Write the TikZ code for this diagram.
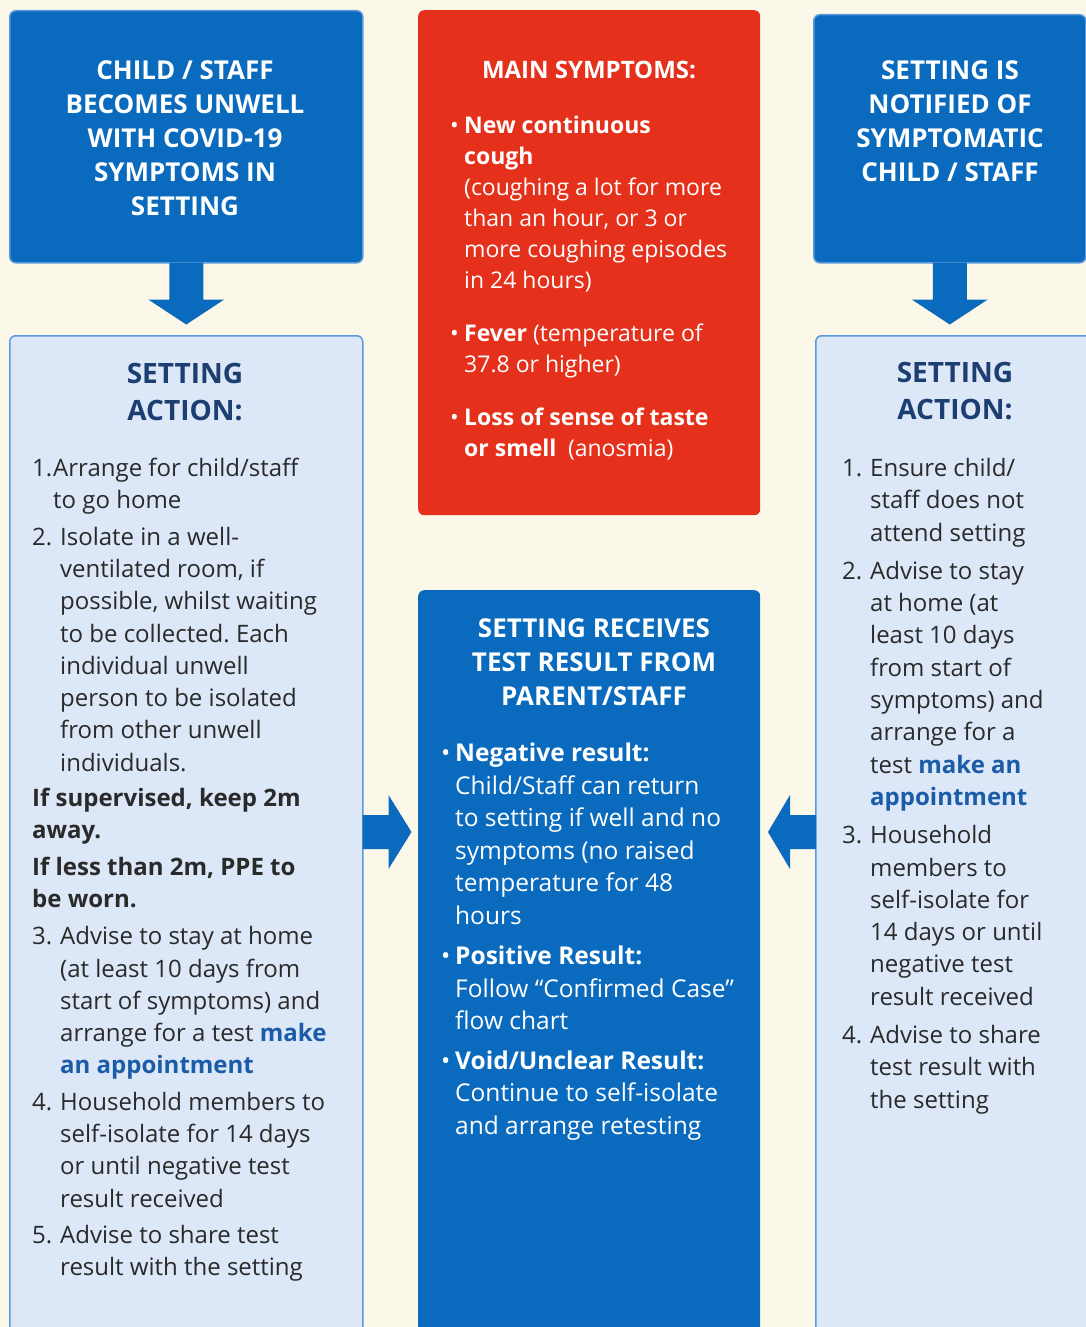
\documentclass[tikz,border=0pt]{standalone}
\usepackage{fontspec}
\setmainfont{Open Sans}
\usetikzlibrary{calc}
\frenchspacing

\definecolor{cream}{HTML}{FCF8E9}
\definecolor{nhsblue}{HTML}{0A6BBE}
\definecolor{edgeblue}{HTML}{5A9ADA}
\definecolor{symred}{HTML}{E5311B}
\definecolor{paleblue}{HTML}{DCE7F7}
\definecolor{navy}{HTML}{1C3E70}
\definecolor{ink}{HTML}{2A2A2A}
\definecolor{linkblue}{HTML}{1B5CA8}

\newcommand{\numl}[1]{\makebox[28pt][l]{#1}}
\newcommand{\indl}{\hspace*{28pt}}
\newcommand{\bul}{\makebox[14pt][l]{\textbullet}}
\newcommand{\bind}{\hspace*{14pt}}
\newcommand{\appt}[1]{\textbf{\color{linkblue}#1}}

\begin{document}
\begin{tikzpicture}[x=1pt,y=-1pt]
\tikzstyle{box}=[rectangle, anchor=north west, inner sep=0pt, rounded corners=6pt]
\tikzstyle{bluebox}=[box, fill=nhsblue, draw=edgeblue, line width=1.5pt]
\tikzstyle{palebox}=[box, fill=paleblue, draw=edgeblue, line width=1.5pt]
\tikzstyle{redbox}=[box, fill=symred]
\tikzstyle{arrowfill}=[fill=nhsblue]
\tikzstyle{ttl}=[anchor=north, align=center, text=white, inner sep=0pt, font=\fontsize{26}{34}\selectfont\bfseries]
\tikzstyle{hd}=[anchor=north, align=center, text=navy, inner sep=0pt, font=\fontsize{28}{37}\selectfont\bfseries]
\tikzstyle{body}=[anchor=north west, align=left, text=ink, inner sep=0pt, font=\fontsize{24}{32.3}\selectfont]
\tikzstyle{wbody}=[body, text=white]
\fill[cream] (0,0) rectangle (1086,1327);
\useasboundingbox (0,0) rectangle (1086,1327);

% boxes
\node (topL) [bluebox, minimum width=353pt, minimum height=252pt] at (9,10) {};
\node (symp) [redbox, minimum width=342pt, minimum height=505pt] at (418,10) {};
\node (topR) [bluebox, minimum width=272pt, minimum height=248pt] at (813,14) {};
\node (actL) [palebox, minimum width=353pt, minimum height=1100pt] at (9,335) {};
\node (test) [box, fill=nhsblue, minimum width=342pt, minimum height=800pt] at (418,590) {};
\node (actR) [palebox, minimum width=320pt, minimum height=1100pt] at (815,335) {};

% block arrows
\foreach \n in {topL,topR}
  \fill[arrowfill, shift={(\n.south)}] (-17,-1) -- (-17,36) -- (-38,36) -- (0,61) -- (38,36) -- (17,36) -- (17,-1) -- cycle;
\coordinate (midrow) at (0,832);
\fill[arrowfill, shift={(actL.east |- midrow)}] (-1,-17) -- (25,-17) -- (25,-37) -- (48,0) -- (25,37) -- (25,17) -- (-1,17) -- cycle;
\fill[arrowfill, shift={(actR.west |- midrow)}] (1,-17) -- (-25,-17) -- (-25,-37) -- (-47,0) -- (-25,37) -- (-25,17) -- (1,17) -- cycle;

% titles
\node (tL) [ttl] at (185,60) {CHILD / STAFF\\BECOMES UNWELL\\WITH COVID-19\\SYMPTOMS IN\\SETTING};
\node (tR) [ttl] at (950,60) {SETTING IS\\NOTIFIED OF\\SYMPTOMATIC\\CHILD / STAFF};
\node (tS) [ttl, font=\fontsize{24}{34}\selectfont\bfseries] at (589,61) {MAIN SYMPTOMS:};
\node (tT) [ttl] at (594,618) {SETTING RECEIVES\\TEST RESULT FROM\\PARENT/STAFF};
\node (hL) [hd] at (185,363) {SETTING\\ACTION:};
\node (hR) [hd] at (955,362) {SETTING\\ACTION:};

% symptoms
\node (bS) [wbody, font=\fontsize{23}{31}\selectfont] at (450,116) {%
\bul\textbf{New continuous}\\
\bind\textbf{cough}\\
\bind(coughing a lot for more\\
\bind than an hour, or 3 or\\
\bind more coughing episodes\\
\bind in 24 hours)\\[22pt]
\bul\textbf{Fever} (temperature of\\
\bind 37.8 or higher)\\[22pt]
\bul\textbf{Loss of sense of taste}\\
\bind\textbf{or smell}\enspace(anosmia)};

% left action
\node (bL) [body] at (32,458) {%
\makebox[21pt][l]{1.}Arrange for child/staff\\
\hspace*{21pt}to go home\\[4pt]
\numl{2.}Isolate in a well-\\
\indl ventilated room, if\\
\indl possible, whilst waiting\\
\indl to be collected. Each\\
\indl individual unwell\\
\indl person to be isolated\\
\indl from other unwell\\
\indl individuals.\\[3pt]
\textbf{If supervised, keep 2m}\\
\textbf{away.}\\[4pt]
\textbf{If less than 2m, PPE to}\\
\textbf{be worn.}\\[5pt]
\numl{3.}Advise to stay at home\\
\indl (at least 10 days from\\
\indl start of symptoms) and\\
\indl arrange for a test \appt{make}\\
\indl \appt{an appointment}\\[4pt]
\numl{4.}Household members to\\
\indl self-isolate for 14 days\\
\indl or until negative test\\
\indl result received\\[4pt]
\numl{5.}Advise to share test\\
\indl result with the setting};

% right action
\node (bR) [body] at (842,458) {%
\numl{1.}Ensure child/\\
\indl staff does not\\
\indl attend setting\\[6pt]
\numl{2.}Advise to stay\\
\indl at home (at\\
\indl least 10 days\\
\indl from start of\\
\indl symptoms) and\\
\indl arrange for a\\
\indl test \appt{make an}\\
\indl \appt{appointment}\\[6pt]
\numl{3.}Household\\
\indl members to\\
\indl self-isolate for\\
\indl 14 days or until\\
\indl negative test\\
\indl result received\\[6pt]
\numl{4.}Advise to share\\
\indl test result with\\
\indl the setting};

% test result
\node (bT) [wbody, font=\fontsize{24.5}{32.5}\selectfont] at (441,743) {%
\bul\textbf{Negative result:}\\
\bind Child/Staff can return\\
\bind to setting if well and no\\
\bind symptoms (no raised\\
\bind temperature for 48\\
\bind hours\\[8pt]
\bul\textbf{Positive Result:}\\
\bind Follow “Confirmed Case”\\
\bind flow chart\\[7pt]
\bul\textbf{Void/Unclear Result:}\\
\bind Continue to self-isolate\\
\bind and arrange retesting};
\end{tikzpicture}
\end{document}
